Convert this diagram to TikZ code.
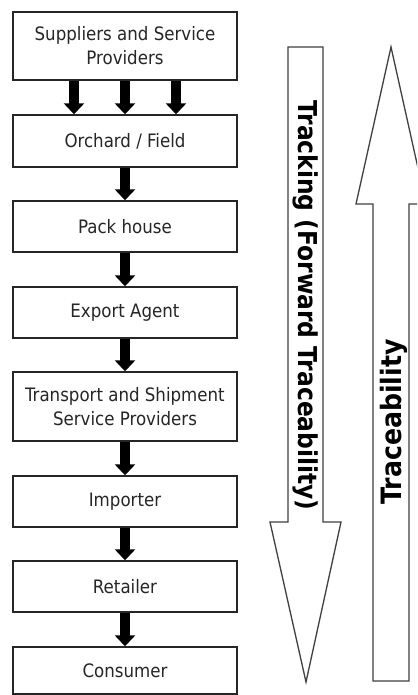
\documentclass[tikz,border=0pt]{standalone}
\usepackage{fontspec}
\setmainfont{DejaVu Sans Condensed}
\usetikzlibrary{arrows.meta}
\begin{document}
\begin{tikzpicture}[x=1pt,y=-1pt,
  box/.style={draw=black!85, line width=1.4pt, fill=white, minimum width=224pt,
    inner sep=0pt, align=center, font=\fontsize{18.5}{24}\selectfont, text=black!85},
  flow/.style={line width=10pt, -{Triangle[width=20pt,length=11pt]}, black},
  hollow/.style={draw=black!75, line width=1.3pt, fill=white, line join=miter},
  big/.style={font=\bfseries\fontsize{26}{30}\selectfont, inner sep=0pt, text=black}]
\useasboundingbox (0,0) rectangle (417,695);
\clip (0,0) rectangle (417,695);
\fill[white] (0,0) rectangle (417,695);
% boxes
\node[box, minimum height=68pt] (sup) at (125,46) {Suppliers and Service\\Providers};
\node[box, minimum height=52pt] (orc) at (125,141) {Orchard / Field};
\node[box, minimum height=51pt] (pac) at (125,226.5) {Pack house};
\node[box, minimum height=51pt] (exp) at (125,312.5) {Export Agent};
\node[box, minimum height=69pt] (tra) at (125,406.5) {Transport and Shipment\\Service Providers};
\node[box, minimum height=51pt] (imp) at (125,501.5) {Importer};
\node[box, minimum height=51pt] (ret) at (125,586.5) {Retailer};
\node[box, minimum height=47pt] (con) at (125,670.5) {Consumer};
% flow arrows
\draw[flow] ([xshift=-51pt]sup.south) -- ([xshift=-51pt]orc.north);
\draw[flow] (sup.south) -- (orc.north);
\draw[flow] ([xshift=51pt]sup.south) -- ([xshift=51pt]orc.north);
\draw[flow] (orc.south) -- (pac.north);
\draw[flow] (pac.south) -- (exp.north);
\draw[flow] (exp.south) -- (tra.north);
\draw[flow] (tra.south) -- (imp.north);
\draw[flow] (imp.south) -- (ret.north);
\draw[flow] (ret.south) -- (con.north);
% big hollow arrows
\draw[hollow] (288,47) -- (323,47) -- (323,522) -- (341,522) -- (306,682)
  -- (270,522) -- (288,522) -- cycle;
\draw[hollow] (373,681) -- (409,681) -- (409,204) -- (426,204) -- (391,47)
  -- (356,204) -- (373,204) -- cycle;
\node[big, rotate=-90] (trk) at (306,305.5) {Tracking (Forward Traceability)};
\node[big, rotate=90, font=\bfseries\fontsize{28}{30}\selectfont] (trc) at (394,422) {Traceability};
\end{tikzpicture}
\end{document}
